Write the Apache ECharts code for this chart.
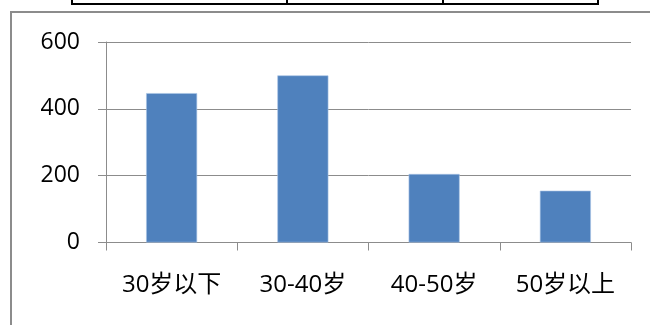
<!DOCTYPE html>
<html>
<head>
<meta charset="utf-8">
<script src="https://cdn.jsdelivr.net/npm/echarts@6/dist/echarts.min.js"></script>
<style>
html,body{margin:0;padding:0;background:#fff;}
#chart{width:650px;height:325px;}
</style>
</head>
<body>
<div id="chart"></div>
<script>
// Age groups and headcount per group
const categories = ['30岁以下', '30-40岁', '40-50岁', '50岁以上'];
const counts = [447, 500, 205, 155];
const yTicks = [0, 200, 400, 600];

const chart = echarts.init(document.getElementById('chart'), null, {renderer: 'canvas'});
const labelFont = '"Open Sans", "Noto Sans CJK SC", sans-serif';

chart.setOption({
  animation: false,
  backgroundColor: '#ffffff',
  grid: {left: 106, right: 19, top: 42, bottom: 82.5},
  graphic: [
    // outer chart frame
    {type: 'rect', shape: {x: 11, y: 12, width: 700, height: 400},
     style: {fill: 'none', stroke: '#8c8c8c', lineWidth: 2}},
    // bottom edge of the table above the chart
    {type: 'polyline', shape: {points: [[72, -2], [72, 4], [598, 4], [598, -2]]},
     style: {fill: 'none', stroke: '#000', lineWidth: 2}},
    {type: 'line', shape: {x1: 287, y1: -2, x2: 287, y2: 4}, style: {stroke: '#000', lineWidth: 2}},
    {type: 'line', shape: {x1: 443, y1: -2, x2: 443, y2: 4}, style: {stroke: '#000', lineWidth: 2}}
  ],
  xAxis: {
    type: 'category',
    data: categories,
    boundaryGap: true,
    axisLine: {lineStyle: {color: '#8c8c8c', width: 1}},
    axisTick: {show: true, length: 8, alignWithLabel: false, lineStyle: {color: '#8c8c8c'}},
    axisLabel: {color: '#000', fontSize: 24, fontFamily: labelFont, margin: 31}
  },
  yAxis: {
    type: 'value',
    min: yTicks[0],
    max: yTicks[yTicks.length - 1],
    interval: yTicks[1] - yTicks[0],
    axisLine: {show: true, lineStyle: {color: '#8c8c8c', width: 1}},
    axisTick: {show: true, length: 8, lineStyle: {color: '#8c8c8c'}},
    axisLabel: {color: '#000', fontSize: 23, fontFamily: labelFont, margin: 26},
    splitLine: {show: true, lineStyle: {color: '#8c8c8c', width: 1}}
  },
  series: [{
    type: 'bar',
    data: counts,
    barWidth: 51,
    itemStyle: {color: '#4f81bd', borderColor: '#a9c4e6', borderWidth: 0.6}
  }]
});
</script>
</body>
</html>
